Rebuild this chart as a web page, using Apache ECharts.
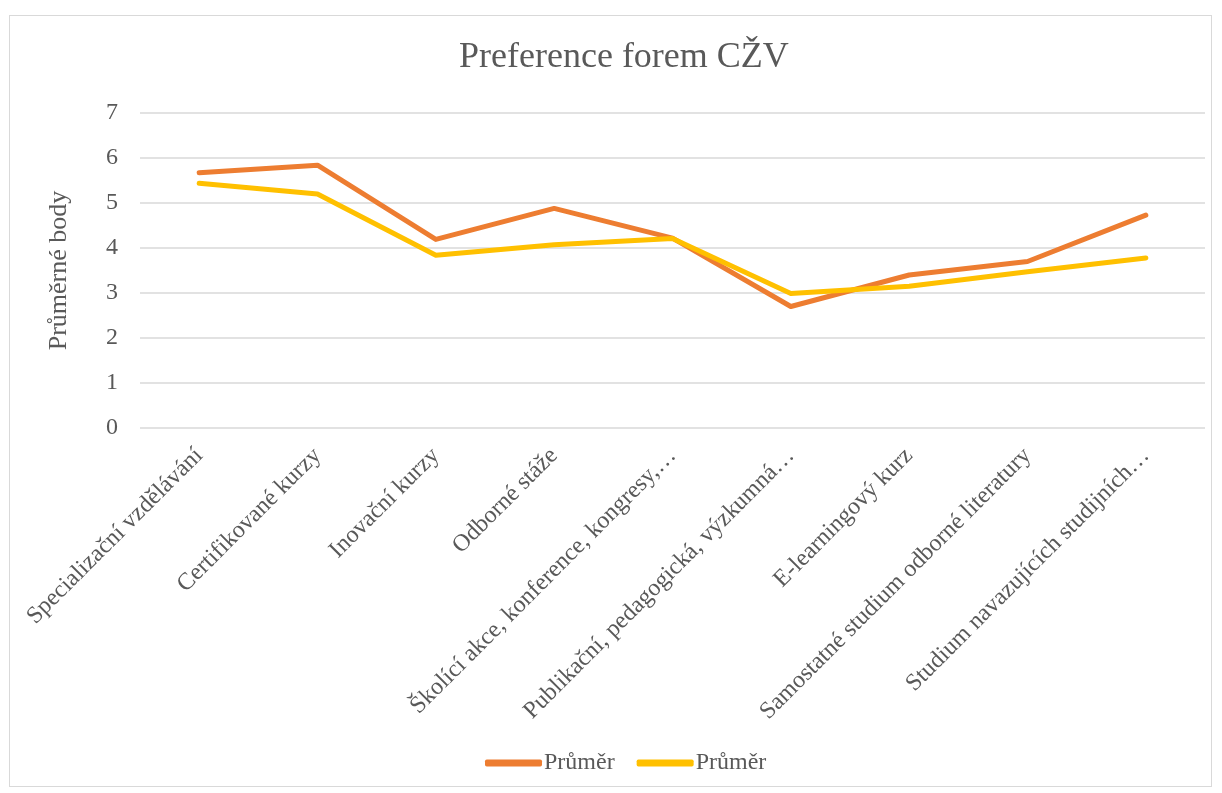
<!DOCTYPE html>
<html>
<head>
<meta charset="utf-8">
<script src="https://cdn.jsdelivr.net/npm/echarts@6/dist/echarts.min.js"></script>
<style>
	html, body { margin: 0; padding: 0; background: #fff; }
	#frame {
		position: absolute;
		left: 9px; top: 15px;
		width: 1203px; height: 772px;
		border: 1px solid #d9d9d9;
		box-sizing: border-box;
	}
	#myChart { position: absolute; left: 0; top: 0; width: 1222px; height: 793px; }
</style>
</head>
<body>
<div id="frame"></div>
<div id="myChart"></div>
<script>
	// kategorie (popisky zkrácené jako v originálu)
	var categories = [
		'Specializační vzdělávání',
		'Certifikované kurzy',
		'Inovační kurzy',
		'Odborné stáže',
		'Školící akce, konference, kongresy,…',
		'Publikační, pedagogická, výzkumná…',
		'E-learningový kurz',
		'Samostatné studium odborné literatury',
		'Studium navazujících studijních…'
	];
	var prumer1 = [5.67, 5.84, 4.19, 4.88, 4.22, 2.70, 3.40, 3.70, 4.73];
	var prumer2 = [5.44, 5.20, 3.84, 4.07, 4.21, 2.99, 3.15, 3.47, 3.78];
	var yTicks = { min: 0, max: 7, interval: 1 };

	var font = '"Liberation Serif", "DejaVu Serif", serif';
	var grey = '#595959';

	var myChart = echarts.init(document.getElementById('myChart'));
	myChart.setOption({
		animation: false,
		title: {
			text: 'Preference forem CŽV',
			left: 454,
			top: 35,
			textStyle: { fontFamily: font, fontSize: 36, fontWeight: 'normal', color: grey }
		},
		legend: {
			bottom: 13,
			left: 480,
			itemWidth: 57,
			itemHeight: 7,
			itemGap: 22,
			textStyle: { fontFamily: font, fontSize: 24, color: grey, padding: [0, 0, 0, -3] },
			data: [
				{ name: 'Průměr', icon: 'roundRect', itemStyle: { color: '#ED7D31' } },
				{ name: 'Průměr ', icon: 'roundRect', itemStyle: { color: '#FFC000' } }
			],
			formatter: function (n) { return n.trim(); }
		},
		grid: { left: 140, right: 17, top: 113, bottom: 365 },
		xAxis: {
			type: 'category',
			data: categories,
			boundaryGap: true,
			axisLine: { show: false },
			axisTick: { show: false },
			axisLabel: {
				interval: 0,
				rotate: 45,
				margin: 24,
				fontFamily: font,
				fontSize: 24,
				color: grey
			}
		},
		yAxis: {
			type: 'value',
			min: yTicks.min,
			max: yTicks.max,
			interval: yTicks.interval,
			name: 'Průměrné body',
			nameLocation: 'middle',
			nameGap: 68,
			nameTextStyle: { fontFamily: font, fontSize: 26, color: grey },
			axisLine: { show: false },
			axisTick: { show: false },
			axisLabel: { margin: 22, fontFamily: font, fontSize: 24, color: grey },
			splitLine: { lineStyle: { color: '#d9d9d9', width: 1.5 } }
		},
		series: [
			{
				name: 'Průměr',
				type: 'line',
				data: prumer1,
				symbol: 'none',
				lineStyle: { color: '#ED7D31', width: 5, cap: 'round', join: 'round' },
				itemStyle: { color: '#ED7D31' }
			},
			{
				name: 'Průměr ',
				type: 'line',
				data: prumer2,
				symbol: 'none',
				lineStyle: { color: '#FFC000', width: 5, cap: 'round', join: 'round' },
				itemStyle: { color: '#FFC000' }
			}
		]
	});
	window.onresize = function () { myChart.resize(); };
</script>
</body>
</html>
